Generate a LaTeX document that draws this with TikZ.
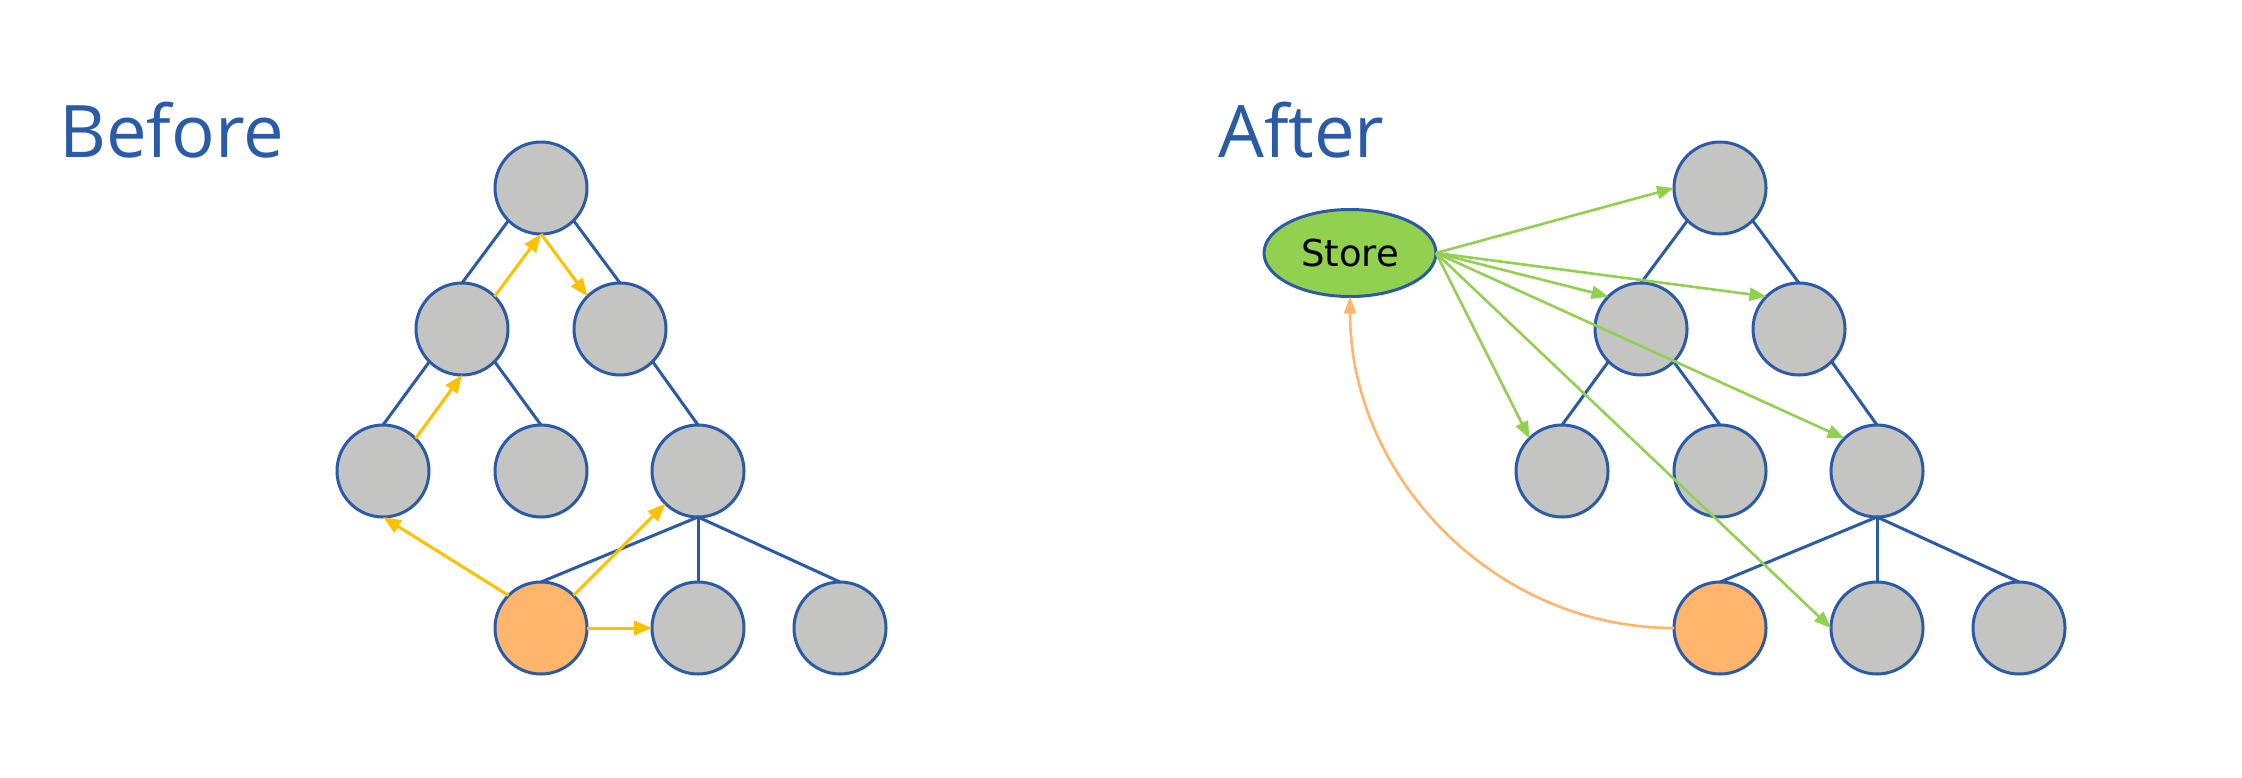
\documentclass[tikz,border=0pt]{standalone}
\usepackage{fontspec}
\setmainfont{Open Sans}
\newfontfamily\storefont{DejaVu Sans}
\usetikzlibrary{arrows.meta,shapes.geometric}
\definecolor{edgeblue}{HTML}{2B5AA6}
\definecolor{titleblue}{HTML}{2A5BA8}
\definecolor{nodegray}{HTML}{C4C4C2}
\definecolor{hiorange}{HTML}{FFB56B}
\definecolor{arryellow}{HTML}{FFC000}
\definecolor{arrgreen}{HTML}{92D050}
\tikzset{
  treenode/.style={circle, draw=edgeblue, line width=3pt, fill=nodegray, minimum size=92pt, inner sep=0pt, outer sep=0pt},
  curnode/.style={treenode, fill=hiorange},
  storenode/.style={ellipse, draw=edgeblue, line width=3pt, fill=arrgreen, minimum width=172pt, minimum height=87pt, inner sep=0pt, outer sep=0pt, font=\storefont\fontsize{37}{44}\selectfont},
  treeedge/.style={draw=edgeblue, line width=3pt},
  yarrow/.style={draw=arryellow, line width=3pt, -{Triangle[length=18pt,width=14pt]}},
  garrow/.style={draw=arrgreen, line width=2.6pt, -{Triangle[length=17pt,width=13pt]}},
  oarrow/.style={draw=hiorange, line width=2.6pt, -{Triangle[length=17pt,width=12pt]}},
  titletext/.style={anchor=base west, inner sep=0pt, text=titleblue, font=\fontsize{72.5}{86}\selectfont}
}
\begin{document}
\begin{tikzpicture}[x=1pt, y=-1pt]
\useasboundingbox (0,0) rectangle (2242,777);
% titles
\node[titletext] (tb) at (59,157) {Before};
\node[titletext] (ta) at (1218,157) {After};
% before tree
\node[treenode] (b1) at (541,188) {};
\node[treenode] (b2) at (462,329) {};
\node[treenode] (b3) at (620,329) {};
\node[treenode] (b4) at (383,471) {};
\node[treenode] (b5) at (541,471) {};
\node[treenode] (b6) at (698,471) {};
\node[curnode]  (b7) at (541,628) {};
\node[treenode] (b8) at (698,628) {};
\node[treenode] (b9) at (840,628) {};
\draw[treeedge] (b1.south west) -- (b2.north);
\draw[treeedge] (b1.south east) -- (b3.north);
\draw[treeedge] (b2.south west) -- (b4.north);
\draw[treeedge] (b2.south east) -- (b5.north);
\draw[treeedge] (b3.south east) -- (b6.north);
\draw[treeedge] (b6.south) -- (b7.north);
\draw[treeedge] (b6.south) -- (b8.north);
\draw[treeedge] (b6.south) -- (b9.north);
\draw[yarrow] (b4.north east) -- (b2.south);
\draw[yarrow] (b2.north east) -- (b1.south);
\draw[yarrow] (b1.south) -- (b3.north west);
\draw[yarrow] (b7.north west) -- (b4.south);
\draw[yarrow] (b7.north east) -- (b6.south west);
\draw[yarrow] (b7.east) -- (b8.west);
% after tree
\node[treenode] (a1) at (1720,188) {};
\node[treenode] (a2) at (1641,329) {};
\node[treenode] (a3) at (1799,329) {};
\node[treenode] (a4) at (1562,471) {};
\node[treenode] (a5) at (1720,471) {};
\node[treenode] (a6) at (1877,471) {};
\node[curnode]  (a7) at (1720,628) {};
\node[treenode] (a8) at (1877,628) {};
\node[treenode] (a9) at (2019,628) {};
\draw[treeedge] (a1.south west) -- (a2.north);
\draw[treeedge] (a1.south east) -- (a3.north);
\draw[treeedge] (a2.south west) -- (a4.north);
\draw[treeedge] (a2.south east) -- (a5.north);
\draw[treeedge] (a3.south east) -- (a6.north);
\draw[treeedge] (a6.south) -- (a7.north);
\draw[treeedge] (a6.south) -- (a8.north);
\draw[treeedge] (a6.south) -- (a9.north);
\node[storenode] (st) at (1350,253) {Store};
\draw[garrow] (st.east) -- (a1.west);
\draw[garrow] (st.east) -- (a2.north west);
\draw[garrow] (st.east) -- (a3.north west);
\draw[garrow] (st.east) -- (a4.north west);
\draw[garrow] (st.east) -- (a6.north west);
\draw[garrow] (st.east) -- (a8.west);
\draw[oarrow] (a7.west) .. controls +(-180,0) and +(0,180) .. (st.south);
\end{tikzpicture}
\end{document}
